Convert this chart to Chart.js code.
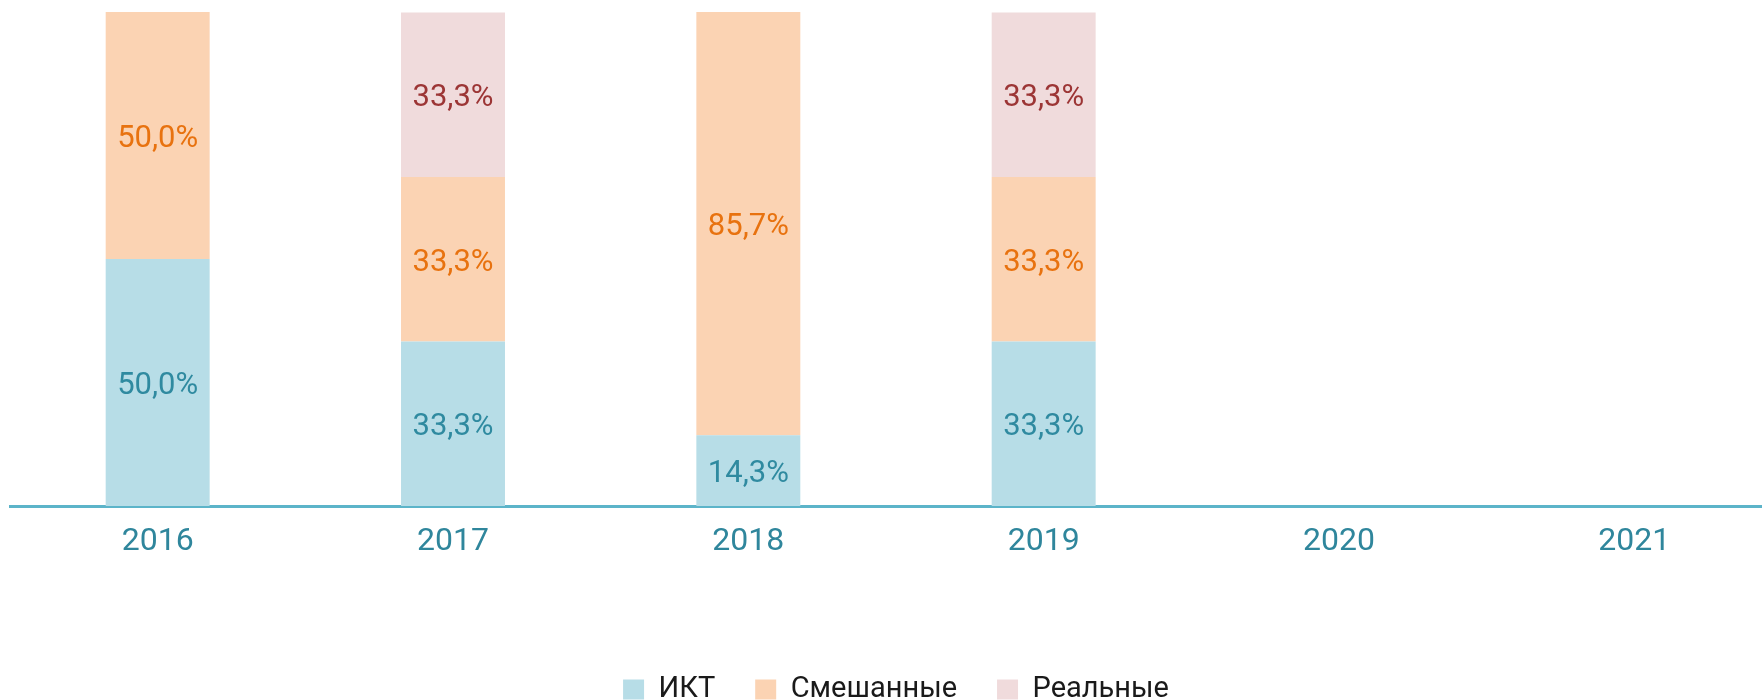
<!DOCTYPE html>
<html>
<head>
<meta charset="utf-8">
<script src="https://cdn.jsdelivr.net/npm/chart.js@4"></script>
<style>
  html, body { margin: 0; padding: 0; background: #fff; overflow: hidden; }
  #wrap { width: 1782px; height: 700px; }
</style>
</head>
<body>
<div id="wrap"><canvas id="c" width="1782" height="700"></canvas></div>
<script>
const years = ['2016', '2017', '2018', '2019', '2020', '2021'];
const ikt = [50.0, 33.3, 14.3, 33.3, null, null];
const mixed = [50.0, 33.3, 85.7, 33.3, null, null];
const real = [null, 33.3, null, 33.3, null, null];
const seriesNames = ['ИКТ', 'Смешанные', 'Реальные'];

const barColors = ['#b7dde7', '#fbd3b3', '#f0dbdc'];
const labelColors = ['#2f8aa0', '#e8720f', '#9c3535'];
const FONT = 'Roboto, "Noto Sans", sans-serif';

const valueLabels = {
  id: 'valueLabels',
  afterDatasetsDraw(chart) {
    const ctx = chart.ctx;
    ctx.save();
    ctx.font = '31px ' + FONT;
    ctx.textAlign = 'center';
    ctx.textBaseline = 'middle';
    chart.data.datasets.forEach((ds, di) => {
      const meta = chart.getDatasetMeta(di);
      meta.data.forEach((bar, i) => {
        const v = ds.data[i];
        if (v === null || v === undefined) return;
        const { x, y, base } = bar.getProps(['x', 'y', 'base'], true);
        ctx.fillStyle = labelColors[di];
        ctx.fillText(v.toFixed(1).replace('.', ',') + '%', x, (y + base) / 2 + 4);
      });
    });
    ctx.restore();
  }
};

new Chart(document.getElementById('c'), {
  type: 'bar',
  data: {
    labels: years,
    datasets: [
      { label: seriesNames[0], data: ikt, backgroundColor: barColors[0] },
      { label: seriesNames[1], data: mixed, backgroundColor: barColors[1] },
      { label: seriesNames[2], data: real, backgroundColor: barColors[2] }
    ]
  },
  options: {
    responsive: false,
    animation: false,
    events: [],
    layout: { padding: { top: 12, left: 10, right: 0, bottom: 0 } },
    datasets: { bar: { barPercentage: 0.352, categoryPercentage: 1.0, borderWidth: 0 } },
    scales: {
      x: {
        stacked: true,
        grid: { display: false, drawTicks: false },
        border: { display: true, color: '#5cb4c9', width: 3 },
        ticks: { color: '#2f869c', font: { family: FONT, size: 32 }, padding: 17 },
        afterFit(scale) { scale.height = 129; }
      },
      y: {
        stacked: true,
        display: false,
        min: 0,
        max: 100
      }
    },
    plugins: {
      tooltip: { enabled: false },
      legend: {
        position: 'bottom',
        maxHeight: 65,
        labels: {
          color: '#1a1a1a',
          font: { family: FONT, size: 29 },
          boxWidth: 21,
          boxHeight: 20,
          padding: 40
        }
      }
    }
  },
  plugins: [valueLabels]
});
</script>
</body>
</html>
